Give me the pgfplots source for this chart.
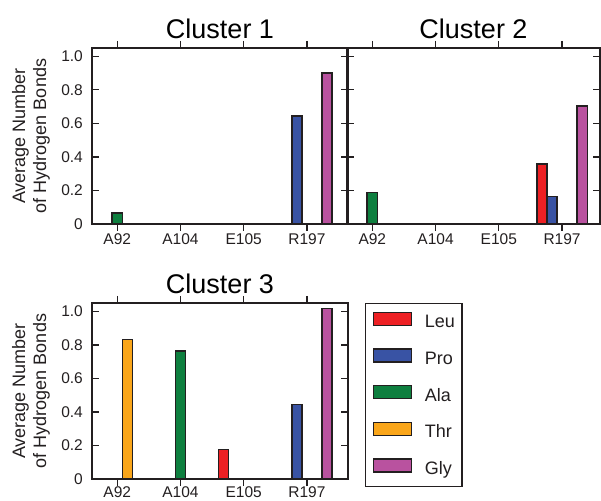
\documentclass[border=0pt]{standalone}
\usepackage{pgfplots}
\pgfplotsset{compat=1.18}
\usepackage{fontspec}
\setmainfont{Liberation Sans}
\definecolor{cLeu}{RGB}{237,32,36}
\definecolor{cPro}{RGB}{57,83,164}
\definecolor{cAla}{RGB}{14,127,63}
\definecolor{cThr}{RGB}{250,166,26}
\definecolor{cGly}{RGB}{185,82,159}
\definecolor{axcol}{RGB}{35,31,32}
\pgfplotsset{
  clus/.style={
    scale only axis, width=256pt, height=176pt,
    xmin=-0.4, xmax=3.65, ymin=0, ymax=1.05,
    xtick={0,1,2,3}, xticklabels={A92,A104,E105,R197},
    ytick={0,0.2,0.4,0.6,0.8,1.0}, yticklabels={0,0.2,0.4,0.6,0.8,1.0},
    tick align=inside, major tick length=7pt,
    axis line style={line width=1.8pt, color=axcol},
    major tick style={line width=1.2pt, color=axcol},
    ybar, bar width=0.16,
    title style={font=\fontsize{27}{32}\selectfont, inner sep=0pt, anchor=base, at={(0.5,1)}, yshift=3pt},
    tick label style={font=\fontsize{15.5}{18}\selectfont, text=axcol},
    xticklabel style={inner sep=0pt, anchor=north, yshift=-2.5pt},
    yticklabel style={inner sep=0pt, anchor=east, xshift=-9pt},
    ylabel style={at={(rel axis cs:0,0.5)}, anchor=south, inner sep=0pt, yshift=42pt, align=center, font=\fontsize{18}{21}\selectfont, text=axcol},
    every axis plot post/.append style={myleg},
  },
  myleg/.style={legend image code/.code={\draw[##1,line width=1.3pt] (0pt,-2pt) rectangle (38pt,11pt);}},
  bLeu/.style={fill=cLeu, draw=axcol, line width=1.6pt, bar shift=-0.32},
  bPro/.style={fill=cPro, draw=axcol, line width=1.6pt, bar shift=-0.16},
  bAla/.style={fill=cAla, draw=axcol, line width=1.6pt, bar shift=0},
  bThr/.style={fill=cThr, draw=axcol, line width=1.6pt, bar shift=0.16},
  bGly/.style={fill=cGly, draw=axcol, line width=1.6pt, bar shift=0.32},
}
\begin{document}
\begin{tikzpicture}
\useasboundingbox (0,0) rectangle (601pt,500pt);
% Cluster 1
\begin{axis}[clus, at={(92pt,276pt)}, anchor=south west, title={Cluster 1},
  ylabel={Average Number\\of Hydrogen Bonds}]
\addplot[bAla] coordinates {(0,0.064)};
\addplot[bPro] coordinates {(3,0.645)};
\addplot[bGly] coordinates {(3,0.90)};
\end{axis}
% Cluster 2
\begin{axis}[clus, at={(347pt,276pt)}, anchor=south west, width=253pt, xmax=3.6,
  title={Cluster 2}, yticklabels={}]
\addplot[bAla] coordinates {(0,0.187)};
\addplot[bLeu] coordinates {(3,0.357)};
\addplot[bPro] coordinates {(3,0.163)};
\addplot[bGly] coordinates {(3,0.705)};
\end{axis}
% Cluster 3
\begin{axis}[clus, at={(92pt,21pt)}, anchor=south west, height=176pt, title={Cluster 3},
  ylabel={Average Number\\of Hydrogen Bonds},
  xticklabel style={yshift=2pt},
  legend cell align=left,
  legend style={at={(axis description cs:1.066,1)}, anchor=north west,
    draw=axcol, line width=1.3pt, inner xsep=7pt, inner ysep=8pt,
    row sep=16.5pt, column sep=13pt,
    font=\fontsize{18}{21}\selectfont, text=axcol,
    nodes={inner sep=0pt, text height=13pt, text depth=4pt}}]
\addplot[bLeu] coordinates {(2,0.175)};
\addplot[bPro] coordinates {(3,0.444)};
\addplot[bAla] coordinates {(1,0.763)};
\addplot[bThr] coordinates {(0,0.833)};
\addplot[bGly] coordinates {(3,1.016)};
\legend{Leu,Pro,Ala,Thr,Gly}
\end{axis}
\end{tikzpicture}
\end{document}
